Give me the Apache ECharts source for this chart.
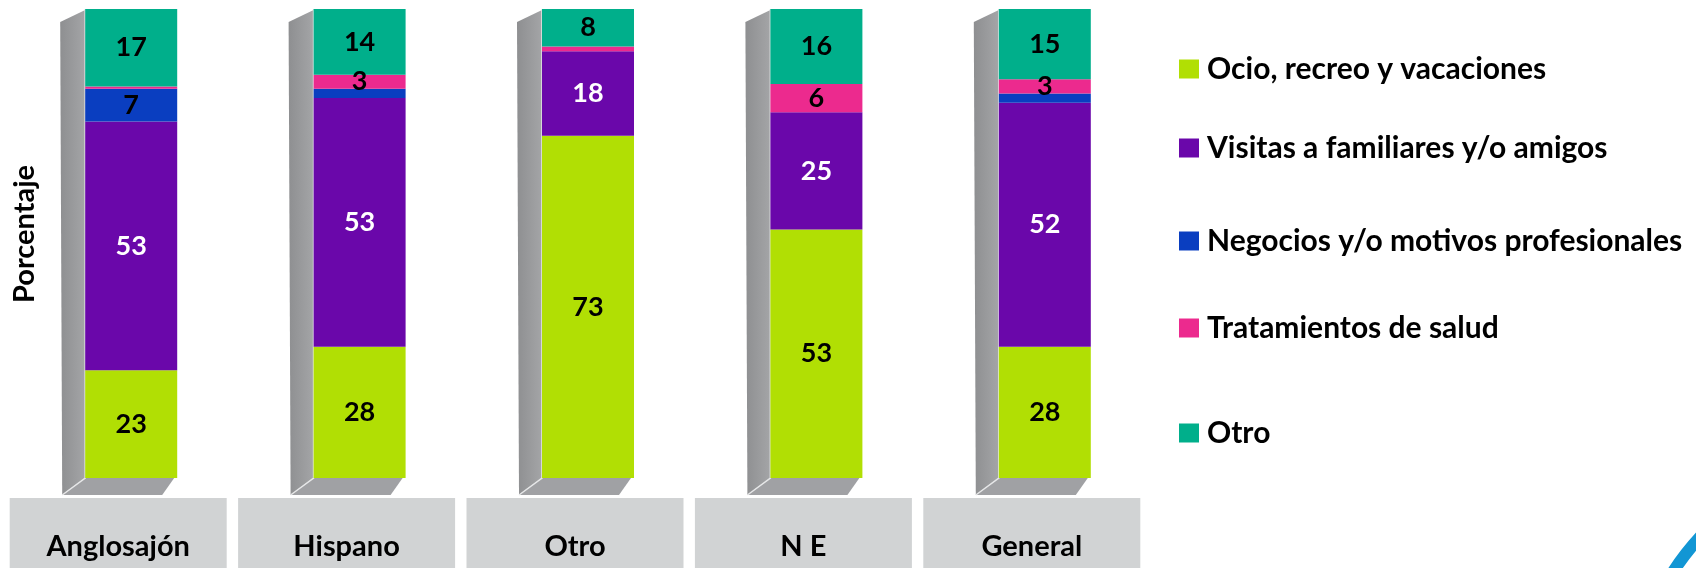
<!DOCTYPE html>
<html>
<head>
<meta charset="utf-8">
<script src="https://cdn.jsdelivr.net/npm/echarts@6/dist/echarts.min.js"></script>
<style>
  html, body { margin: 0; padding: 0; background: #fff; }
  #chart { width: 1696px; height: 568px; }
</style>
</head>
<body>
<div id="chart"></div>
<script>
// datos (porcentaje por grupo)
const categorias = ["Anglosajón", "Hispano", "Otro", "N E", "General"];
const ocio = [23, 28, 73, 53, 28];
const visitas = [53, 53, 18, 25, 52];
const negocios = [7, 2, 0, 0, 2];
const salud = [0.5, 3, 1, 6, 3];
const otro = [17, 14, 8, 16, 15];
const fondo = [100, 100, 100, 100, 100];

const nombres = [
  "Ocio, recreo y vacaciones",
  "Visitas a familiares y/o amigos",
  "Negocios y/o motivos profesionales",
  "Tratamientos de salud",
  "Otro",
];

const colores = ["#B1DF04", "#6A07AA", "#0A3EC0", "#EC2A8E", "#00AF8B"];
const FONT = "Lato";
const SIDE = 26;
const FRONT = 92;

const chart = echarts.init(document.getElementById("chart"));

const etiqueta = (color) => ({
  show: true,
  position: "inside",
  color: color,
  fontFamily: FONT,
  fontWeight: "bold",
  fontSize: 27,
  formatter: (p) => (p.value >= 3 ? p.value : ""),
});

const serie = (i, data, colorTxt) => ({
  name: nombres[i],
  type: "bar",
  stack: "total",
  barWidth: FRONT,
  barGap: "0%",
  z: 3,
  data: data,
  itemStyle: { color: colores[i] },
  label: etiqueta(colorTxt),
});

// cuerpo gris en 3D detras de cada barra
const render3D = (params, api) => {
  const idx = api.value(0);
  const top = api.coord([idx, api.value(1)]);
  const bot = api.coord([idx, 0]);
  const cx = top[0];
  const xL = cx - (SIDE + FRONT) / 2 + SIDE;
  const xR = xL + FRONT;
  return {
    type: "group",
    children: [
      {
        type: "polygon",
        shape: {
          points: [
            [xL, top[1] + 1],
            [xL - 25, top[1] + 13],
            [xL - 23, bot[1] + 17],
            [xL, bot[1]],
          ],
        },
        style: {
          fill: new echarts.graphic.LinearGradient(0, 0, 1, 0, [
            { offset: 0, color: "#8E8F91" },
            { offset: 1, color: "#A4A5A7" },
          ]),
        },
      },
      {
        type: "polygon",
        shape: {
          points: [
            [xL, bot[1]],
            [xL - 23, bot[1] + 17],
            [xR - 15, bot[1] + 17],
            [xR - 3, bot[1]],
          ],
        },
        style: { fill: "#A0A1A4" },
      },
      {
        type: "polyline",
        shape: {
          points: [
            [xL, top[1]],
            [xL, bot[1]],
            [xL - 23, bot[1] + 17],
          ],
        },
        style: { stroke: "#E6E7E8", lineWidth: 1.5, fill: null },
      },
    ],
  };
};

const legendMid = [69, 148, 241, 328, 433];
const legends = nombres.map((n, i) => ({
  data: [n],
  left: 1179,
  top: legendMid[i] - 15,
  padding: 0,
  orient: "vertical",
  itemWidth: 20,
  itemHeight: 19,
  icon: "rect",
  selectedMode: false,
  textStyle: {
    fontFamily: FONT,
    fontWeight: "bold",
    fontSize: 30,
    lineHeight: 30,
    color: "#000",
    padding: [0, 0, 0, 3],
  },
}));

const option = {
  backgroundColor: "#fff",
  animation: false,
  color: colores,
  grid: {
    left: 4,
    right: 550,
    top: 9,
    bottom: 90,
    containLabel: false,
    outerBoundsMode: "none",
  },
  legend: legends,
  xAxis: {
    type: "category",
    data: categorias,
    axisLine: { show: false },
    axisTick: { show: false },
    axisLabel: {
      margin: 20,
      color: "#000",
      fontFamily: FONT,
      fontWeight: "bold",
      fontSize: 29,
      lineHeight: 30,
      width: 217,
      align: "center",
      backgroundColor: "#D1D3D4",
      padding: [34, 0, 40, 0],
    },
  },
  yAxis: {
    type: "value",
    min: 0,
    max: 100,
    axisLine: { show: false },
    axisTick: { show: false },
    axisLabel: { show: false },
    splitLine: { show: false },
  },
  graphic: [
    {
      type: "text",
      x: 25,
      y: 234,
      rotation: Math.PI / 2,
      style: {
        text: "Porcentaje",
        fontFamily: FONT,
        fontWeight: "bold",
        fontSize: 29,
        fill: "#000",
        align: "center",
        verticalAlign: "middle",
      },
    },
    {
      type: "circle",
      shape: { cx: 1900, cy: 720, r: 271 },
      style: { fill: null, stroke: "#1296D4", lineWidth: 12 },
      silent: true,
    },
  ],
  series: [
    {
      name: "fondo",
      type: "custom",
      renderItem: render3D,
      clip: false,
      z: 1,
      silent: true,
      encode: { x: 0, y: 1 },
      data: categorias.map((c, i) => [i, fondo[i]]),
    },
    {
      name: "hueco",
      type: "bar",
      stack: "hueco",
      barWidth: SIDE,
      barGap: "0%",
      silent: true,
      itemStyle: { color: "transparent" },
      data: fondo,
    },
    serie(0, ocio, "#000"),
    serie(1, visitas, "#fff"),
    serie(2, negocios, "#000"),
    serie(3, salud, "#000"),
    serie(4, otro, "#000"),
  ],
};

chart.setOption(option);
window.addEventListener("resize", () => chart.resize());
</script>
</body>
</html>
